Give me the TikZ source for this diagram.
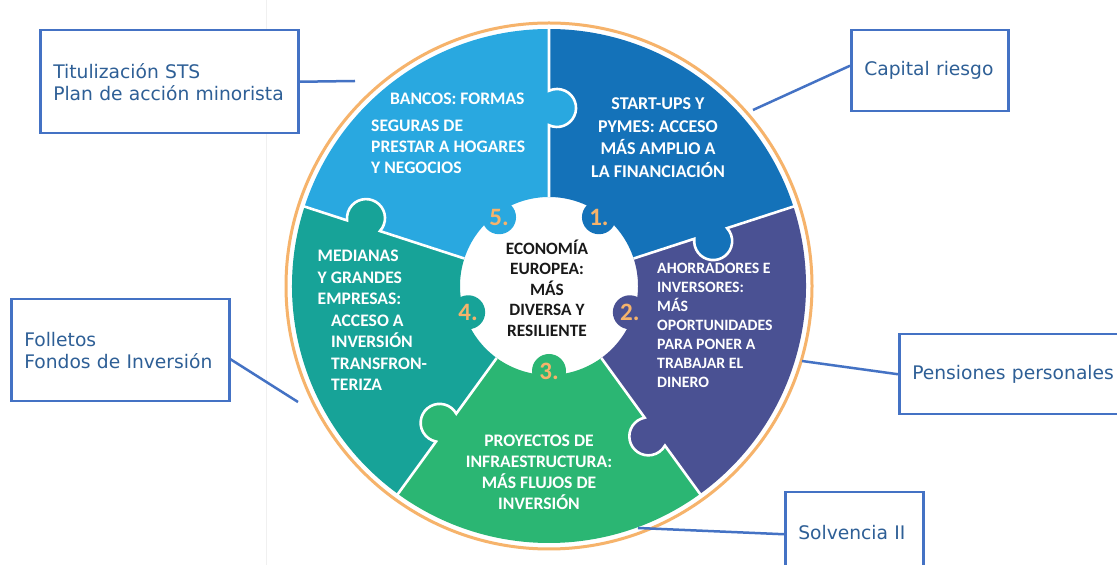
\documentclass[tikz,border=0pt]{standalone}
\usepackage{fontspec}
\setmainfont{Carlito}
\newfontfamily\boxfont{DejaVu Sans}
\usepackage{tikz}
\usetikzlibrary{calc}
\usetikzlibrary{positioning}

\definecolor{pzlight}{RGB}{41,168,224}
\definecolor{pzdark}{RGB}{20,114,185}
\definecolor{pzpurple}{RGB}{74,81,147}
\definecolor{pzgreen}{RGB}{43,182,115}
\definecolor{pzteal}{RGB}{23,163,152}
\definecolor{ringorange}{RGB}{246,179,107}
\definecolor{boxblue}{RGB}{68,114,196}
\definecolor{boxtext}{RGB}{46,95,150}

\tikzset{
  infobox/.style={rectangle, draw=boxblue, line width=2.5pt, fill=white, anchor=north west, align=left, inner xsep=13pt, inner ysep=0pt, text=boxtext, font=\boxfont\fontsize{18.7}{22}\selectfont},
  link/.style={draw=boxblue, line width=2.5pt},
  piecetext/.style={text=white, inner sep=0pt, font=\bfseries\fontsize{17.6}{21}\selectfont},
  numtext/.style={text=ringorange, inner sep=0pt, font=\bfseries\fontsize{25}{25}\selectfont},
  seam/.style={draw=white, line width=2.6pt},
}

\begin{document}
\begin{tikzpicture}[x=1pt, y=1pt]

\useasboundingbox (0,0) rectangle (1117,565);
\fill[white] (0,0) rectangle (1117,565);
\draw[black!6, line width=1pt] (266,0) -- (266,565);

% puzzle wheel
\begin{scope}[shift={(549,279)}]
\foreach \col/\a in {pzdark/18, pzlight/90, pzteal/162, pzgreen/234, pzpurple/306}
  \fill[\col] (\a:89) -- (\a:257) arc[start angle=\a, end angle=\a+72, radius=257pt] -- ({\a+72}:89) arc[start angle=\a+72, end angle=\a, radius=89pt] -- cycle;

\foreach \col/\a/\rk in {pzdark/18/170, pzlight/90/178, pzteal/162/195, pzgreen/234/175, pzpurple/306/180}
  \fill[\col] ($(\a:\rk)+({\a-90}:8)$) circle[radius=19pt];

\foreach \a/\rk in {18/170, 90/178, 162/195, 234/175, 306/180}
  \draw[seam] (\a:89) -- (\a:{\rk-17.2}) arc[start angle=\a+155, end angle=\a+385, radius=19pt] -- (\a:258);

\foreach \col/\a/\n in {pzdark/18/1, pzlight/90/5, pzteal/162/4, pzgreen/234/3, pzpurple/306/2}{
  \fill[\col] ({\a+36}:85) circle[radius=17pt];
  \node[numtext] (num\n) at ({\a+36}:85) {\n.};
}

\draw[ringorange, line width=3pt] (0,0) circle[radius=263pt];
\end{scope}

% texts on the pieces
\node[piecetext, align=left, anchor=north west] (bancos) at (371,472)
	{\hspace*{19pt}BANCOS: FORMAS\\[6pt]SEGURAS DE\\PRESTAR A HOGARES\\Y NEGOCIOS};
\node[piecetext, align=center, anchor=north, font=\bfseries\fontsize{18}{22.5}\selectfont] (startups) at (658,467)
	{START-UPS Y\\PYMES: ACCESO\\MÁS AMPLIO A\\LA FINANCIACIÓN};
\node[piecetext, align=left, anchor=north west, font=\bfseries\fontsize{15.8}{19}\selectfont] (ahorradores) at (657,302)
	{AHORRADORES E\\INVERSORES:\\MÁS\\OPORTUNIDADES\\PARA PONER A\\TRABAJAR EL\\DINERO};
\node[piecetext, align=left, anchor=north west, font=\bfseries\fontsize{17.6}{21.5}\selectfont] (medianas) at (317.5,315)
	{MEDIANAS\\Y GRANDES\\EMPRESAS:\\\hspace*{13.5pt}ACCESO A\\\hspace*{13.5pt}INVERSIÓN\\\hspace*{13.5pt}TRANSFRON-\\\hspace*{13.5pt}TERIZA};
\node[piecetext, align=center, anchor=north] (proyectos) at (539,130)
	{PROYECTOS DE\\INFRAESTRUCTURA:\\MÁS FLUJOS DE\\INVERSIÓN};
\node[piecetext, text=black!90, align=center, font=\bfseries\fontsize{17.3}{20.5}\selectfont] (economia) at (547,277)
	{ECONOMÍA\\EUROPEA:\\MÁS\\DIVERSA Y\\RESILIENTE};

% boxes
\node[infobox, text width=232pt, minimum height=103pt] (tit) at (39,536) {Titulización STS\\Plan de acción minorista};
\node[infobox, text width=131pt, minimum height=81pt] (capital) at (850,536) {Capital riesgo};
\node[infobox, text width=212pt, minimum height=80pt] (pensiones) at (898,232) {Pensiones personales};
\node[infobox, text width=112pt, minimum height=80pt] (solvencia) at (784,74) {Solvencia II};
\node[infobox, text width=192pt, minimum height=102pt] (folletos) at (10,267) {Folletos\\Fondos de Inversión};

\coordinate (titend) at (355,484);
\coordinate (capend) at (753,455);
\coordinate (penend) at (802,204);
\coordinate (solend) at (638,37);
\coordinate (folend) at (298,163);

\draw[link] (tit.east) -- (titend);
\draw[link] ([yshift=5pt]capital.west) -- (capend);
\draw[link] (pensiones.west) -- (penend);
\draw[link] ([yshift=-2pt]solvencia.west) -- (solend);
\draw[link] ([yshift=-9pt]folletos.east) -- (folend);

\end{tikzpicture}
\end{document}
